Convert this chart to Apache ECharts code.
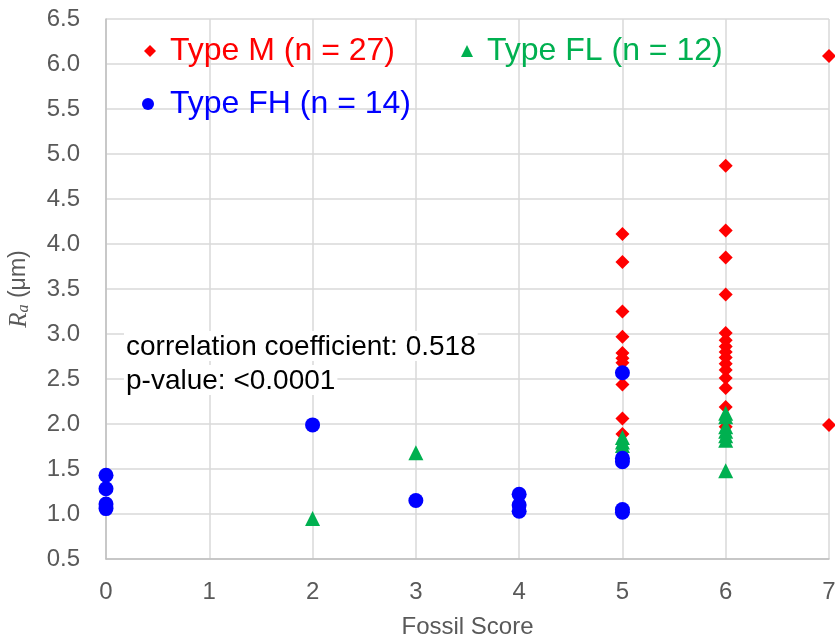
<!DOCTYPE html>
<html><head><meta charset="utf-8">
<script src="https://cdn.jsdelivr.net/npm/echarts@6/dist/echarts.min.js"></script>
<style>html,body{margin:0;padding:0;background:#fff}#c{width:835px;height:639px}</style>
</head><body><div id="c"></div>
<script>
const seriesNames = ['Type M (n = 27)', 'Type FL (n = 12)', 'Type FH (n = 14)'];
const typeM = [
  [5,4.11],[5,3.80],[5,3.25],[5,2.97],[5,2.79],[5,2.73],[5,2.68],[5,2.44],[5,2.06],[5,1.89],
  [6,4.87],[6,4.15],[6,3.85],[6,3.44],[6,3.01],[6,2.93],[6,2.86],[6,2.80],[6,2.74],[6,2.67],[6,2.60],[6,2.51],[6,2.40],[6,2.19],[6,1.97],
  [7,6.09],[7,1.99]
];
const typeFL = [
  [2,0.95],[3,1.68],[5,1.85],[5,1.80],[5,1.76],
  [6,2.12],[6,2.08],[6,1.97],[6,1.92],[6,1.87],[6,1.82],[6,1.48]
];
const typeFH = [
  [0,1.43],[0,1.28],[0,1.11],[0,1.06],[2,1.99],[3,1.15],
  [4,1.22],[4,1.10],[4,1.03],[5,2.57],[5,1.62],[5,1.58],[5,1.05],[5,1.02]
];
const xTicks = [0,1,2,3,4,5,6,7];
const yTicks = [0.5,1.0,1.5,2.0,2.5,3.0,3.5,4.0,4.5,5.0,5.5,6.0,6.5];
const statsText = ['correlation coefficient: 0.518', 'p-value: <0.0001'];

const chart = echarts.init(document.getElementById('c'));
const gridCol = '#d9d9d9', axisCol = '#bfbfbf', labCol = '#595959';
const font = 'Liberation Sans, Arial, sans-serif';
const RED = '#ff0000', GREEN = '#00b050', BLUE = '#0000ff';
chart.setOption({
  animation: false,
  grid: {left: 106, right: 6, top: 19, bottom: 80, containLabel: false, outerBoundsMode: 'none'},
  xAxis: {
    type: 'value', min: xTicks[0], max: xTicks[xTicks.length-1], interval: 1,
    name: 'Fossil Score', nameLocation: 'middle', nameGap: 56,
    nameTextStyle: {color: labCol, fontSize: 24, fontFamily: font},
    axisLine: {show: true, lineStyle: {color: axisCol, width: 1.5}},
    axisTick: {show: false},
    axisLabel: {color: labCol, fontSize: 24, fontFamily: font, margin: 21},
    splitLine: {show: true, lineStyle: {color: gridCol, width: 1.5}}
  },
  yAxis: {
    type: 'value', min: yTicks[0], max: yTicks[yTicks.length-1], interval: 0.5,
    name: '{i|R}{s|a} (μm)', nameLocation: 'middle', nameGap: 74, nameRotate: 90,
    nameTextStyle: {color: labCol, fontSize: 23, fontFamily: font,
      rich: {i: {fontStyle: 'italic', fontFamily: 'Liberation Serif, serif', fontSize: 25, color: labCol},
             s: {fontStyle: 'italic', fontFamily: 'Liberation Serif, serif', fontSize: 16, color: labCol, verticalAlign: 'bottom', padding: [10,0,0,0]}}},
    axisLine: {show: true, lineStyle: {color: axisCol, width: 1.5}},
    axisTick: {show: false},
    axisLabel: {color: labCol, fontSize: 24, fontFamily: font, margin: 26, formatter: v => v.toFixed(1)},
    splitLine: {show: true, lineStyle: {color: gridCol, width: 1.5}}
  },
  legend: [
    {data: [{name: seriesNames[0], textStyle: {color: RED}}, {name: seriesNames[1], textStyle: {color: GREEN}}],
     left: 144, top: 35, padding: 0, itemWidth: 12, itemHeight: 12, itemGap: 66,
     textStyle: {fontSize: 32, fontFamily: font, padding: [0,0,0,9]}},
    {data: [{name: seriesNames[2], textStyle: {color: BLUE}}],
     left: 142, top: 88, padding: 0, itemWidth: 12, itemHeight: 12,
     textStyle: {fontSize: 32, fontFamily: font, padding: [0,0,0,11]}}
  ],
  graphic: [
    {type: 'text', left: 124, top: 331, z: 10, style: {text: statsText[0], fontSize: 28, fontFamily: font, fill: '#000', backgroundColor: '#fff', padding: [2,2,0,2]}},
    {type: 'text', left: 124, top: 365, z: 10, style: {text: statsText[1], fontSize: 28, fontFamily: font, fill: '#000', backgroundColor: '#fff', padding: [2,2,0,2]}}
  ],
  series: [
    {name: seriesNames[0], type: 'scatter', data: typeM, symbol: 'diamond', symbolSize: 14, itemStyle: {color: RED, opacity: 1}, z: 3},
    {name: seriesNames[1], type: 'scatter', data: typeFL, symbol: 'triangle', symbolSize: 15, itemStyle: {color: GREEN, opacity: 1}, z: 4},
    {name: seriesNames[2], type: 'scatter', data: typeFH, symbol: 'circle', symbolSize: 15, itemStyle: {color: BLUE, opacity: 1}, z: 5}
  ]
});
</script></body></html>
